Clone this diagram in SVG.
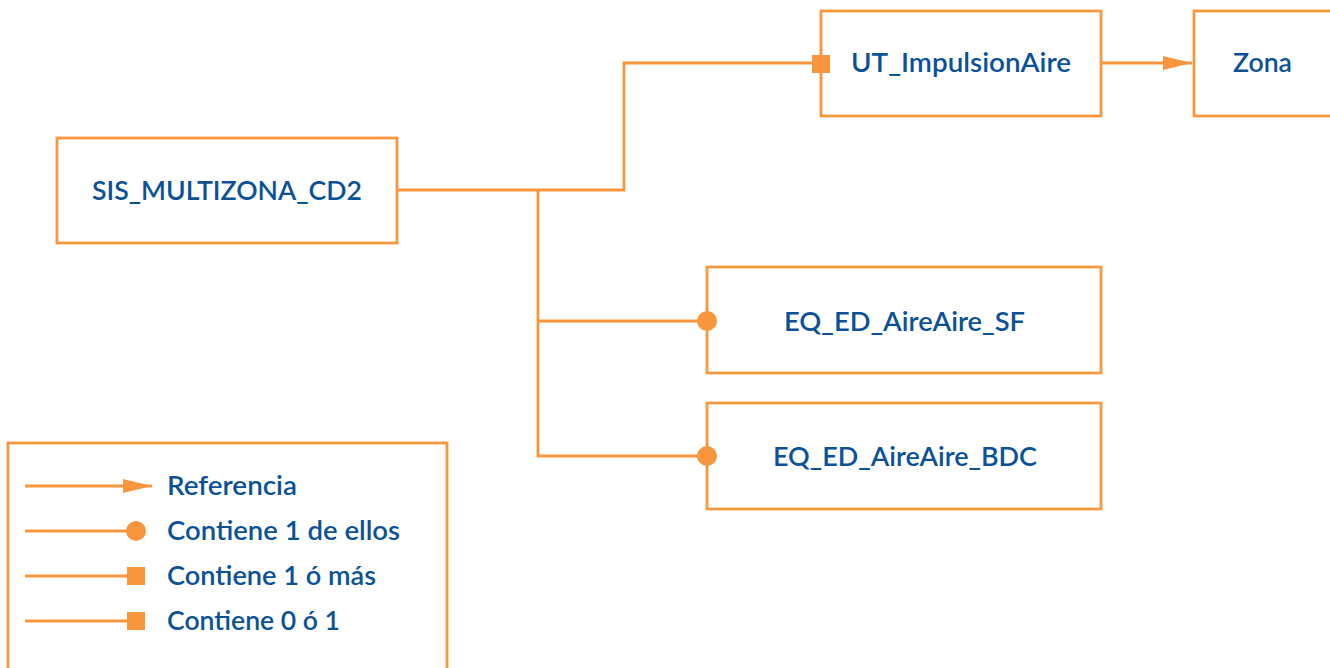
<svg xmlns="http://www.w3.org/2000/svg" width="1330" height="668" viewBox="0 0 1330 668">
<defs>
<style>
.box{fill:#fff;stroke:#F7963C;stroke-width:2.8}
.ln{fill:none;stroke:#F7963C;stroke-width:2.8}
.mk{fill:#F7963C;stroke:none}
.t{font-family:"Lato","Noto Sans","Liberation Sans",sans-serif;font-weight:600;font-size:27.5px;fill:#0B5197}
</style>
<marker id="arr" markerWidth="30" markerHeight="16" refX="29" refY="8" orient="auto" markerUnits="userSpaceOnUse">
<path d="M0,1 L29,8 L0,15 Z" fill="#F7963C"/>
</marker>
</defs>
<rect width="1330" height="668" fill="#fff"/>
<g id="connectors">
<polyline class="ln" points="397,190 624,190 624,63 812,63"/>
<polyline class="ln" points="538,190 538,456 707,456"/>
<line class="ln" x1="538" y1="321" x2="707" y2="321"/>
<line class="ln" x1="1101" y1="63" x2="1192" y2="63" marker-end="url(#arr)"/>
</g>
<g id="SIS_MULTIZONA_CD2">
<rect class="box" x="57" y="138" width="340" height="105"/>
<text class="t" x="92" y="200" textLength="270" lengthAdjust="spacingAndGlyphs">SIS_MULTIZONA_CD2</text>
</g>
<g id="UT_ImpulsionAire">
<rect class="box" x="821" y="11" width="280" height="105"/>
<rect class="mk" x="812" y="55" width="18" height="18"/>
<text class="t" x="851" y="72" textLength="220" lengthAdjust="spacingAndGlyphs">UT_ImpulsionAire</text>
</g>
<g id="Zona">
<rect class="box" x="1194" y="11" width="145" height="105"/>
<text class="t" x="1233" y="72" textLength="59" lengthAdjust="spacingAndGlyphs">Zona</text>
</g>
<g id="EQ_ED_AireAire_SF">
<rect class="box" x="707" y="267" width="394" height="106"/>
<circle class="mk" cx="707" cy="321" r="10"/>
<text class="t" x="784" y="331" textLength="241" lengthAdjust="spacingAndGlyphs">EQ_ED_AireAire_SF</text>
</g>
<g id="EQ_ED_AireAire_BDC">
<rect class="box" x="707" y="403" width="394" height="106"/>
<circle class="mk" cx="707" cy="456" r="10"/>
<text class="t" x="773" y="466" textLength="264" lengthAdjust="spacingAndGlyphs">EQ_ED_AireAire_BDC</text>
</g>
<g id="legend">
<rect class="box" x="8" y="443" width="439" height="240"/>
<line class="ln" x1="25" y1="486" x2="152" y2="486" marker-end="url(#arr)"/>
<line class="ln" x1="25" y1="531" x2="136" y2="531"/>
<circle class="mk" cx="136" cy="531" r="10"/>
<line class="ln" x1="25" y1="576" x2="130" y2="576"/>
<rect class="mk" x="127" y="567" width="18" height="18"/>
<line class="ln" x1="25" y1="621" x2="130" y2="621"/>
<rect class="mk" x="127" y="612" width="18" height="18"/>
<text class="t" x="167" y="495" textLength="130" lengthAdjust="spacingAndGlyphs">Referencia</text>
<text class="t" x="167" y="540" textLength="233" lengthAdjust="spacingAndGlyphs">Contiene 1 de ellos</text>
<text class="t" x="167" y="585" textLength="209" lengthAdjust="spacingAndGlyphs">Contiene 1 ó más</text>
<text class="t" x="167" y="630" textLength="173" lengthAdjust="spacingAndGlyphs">Contiene 0 ó 1</text>
</g>
</svg>
